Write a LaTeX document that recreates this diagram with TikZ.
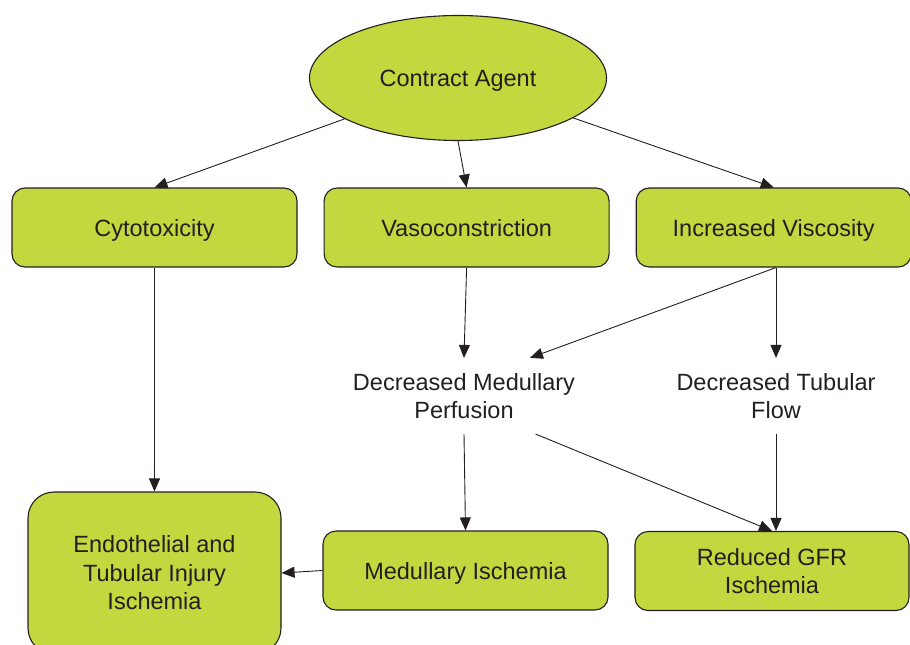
\documentclass[tikz,border=0pt]{standalone}
\usepackage{fontspec}
\setmainfont{Liberation Sans}
\usetikzlibrary{shapes,arrows.meta,positioning}
\definecolor{limefill}{HTML}{C2D83E}
\definecolor{inkgray}{HTML}{231F20}

\begin{document}
\begin{tikzpicture}[
    x=1pt, y=-1pt,
    font=\fontsize{23.5}{28.5}\selectfont,
    block/.style={rectangle, draw=inkgray, line width=1.1pt, fill=limefill, text=inkgray, minimum width=285pt, minimum height=79pt, rounded corners=13pt, align=center},
    oneline/.style={text height=17pt, text depth=0pt},
    agentshape/.style={ellipse, draw=inkgray, line width=1.1pt, fill=limefill, text=inkgray, minimum width=297pt, minimum height=125pt, oneline},
    effect/.style={text=inkgray, align=center, inner sep=15pt},
    arrow/.style={draw=inkgray, line width=0.9pt, -{Triangle[length=13pt,width=11pt]}}
]
\clip (0,0) rectangle (910,645);

% Define nodes from top to bottom
\node [agentshape] (agent) at (458,78) {Contract Agent};
\node [block, oneline] (cyto) at (154.5,227.5) {Cytotoxicity};
\node [block, oneline, right=26pt of cyto] (vaso) {Vasoconstriction};
\node [block, oneline, right=26pt of vaso, minimum width=275pt] (visc) {Increased Viscosity};

\node [effect] (perf) at (464,396) {Decreased Medullary\\Perfusion};
\node [effect] (tub) at (776,396) {Decreased Tubular\\Flow};

\node [block, minimum width=253pt, minimum height=162pt, rounded corners=26pt] (endo) at (154.5,573) {Endothelial and\\Tubular Injury\\Ischemia};
\node [block, oneline] (medisch) at (465.5,570.5) {Medullary Ischemia};
\node [block, minimum width=274pt] (gfr) at (772,571) {Reduced GFR\\Ischemia};

% Draw arrows
\draw [arrow] (agent) -- (cyto.north);
\draw [arrow] (agent.south) -- (vaso.north);
\draw [arrow] (agent) -- (visc.north);
\draw [arrow] (cyto.south) -- (endo.north);
\draw [arrow] (vaso.south) -- (perf.north);
\draw [arrow] (tub.north |- visc.south) -- (perf.30);
\draw [arrow] (tub.north |- visc.south) -- (tub.north);
\draw [arrow] (perf.south) -- (medisch.north);
\draw [arrow] (perf.-28) -- (gfr.north);
\draw [arrow] (tub.south) -- (tub.south |- gfr.north);
\draw [arrow] (medisch.west) -- (endo.east);

\end{tikzpicture}
\end{document}
